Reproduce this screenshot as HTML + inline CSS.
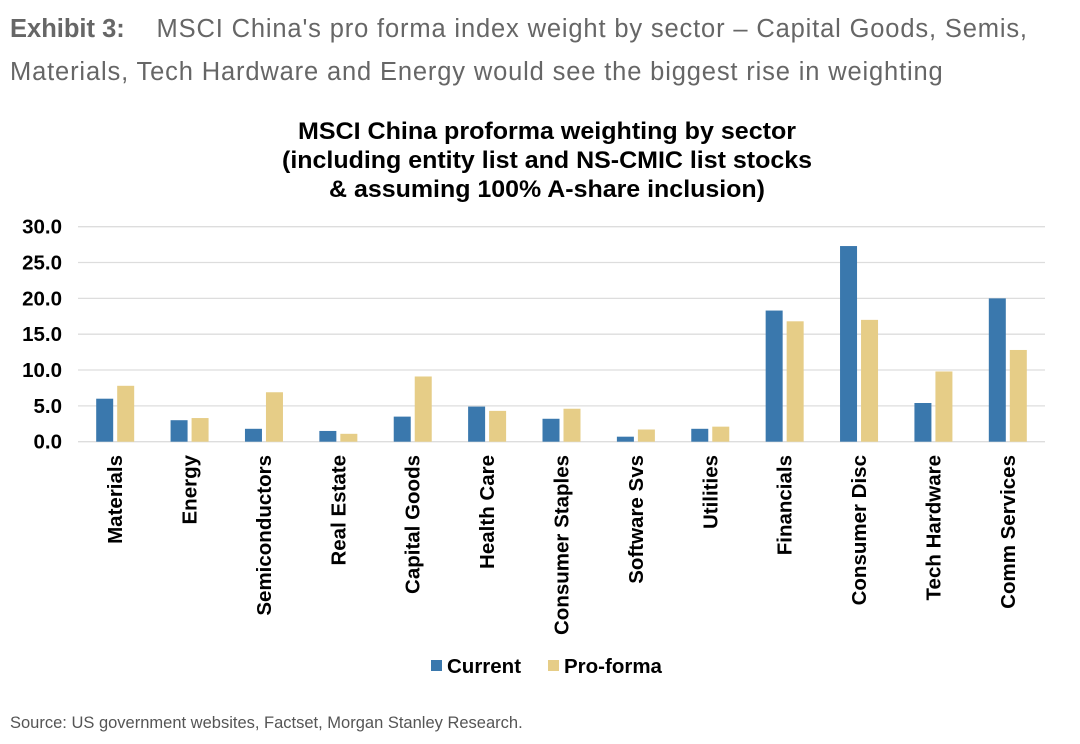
<!DOCTYPE html>
<html><head><meta charset="utf-8"><style>
body{margin:0;background:#fff;width:1080px;height:744px;overflow:hidden;font-family:"Liberation Sans",sans-serif;}
</style></head><body>
<div style="position:absolute;left:10px;top:8px;width:1075px;font-size:25.5px;line-height:43px;color:#666;letter-spacing:0.85px;">
<b style="color:#666;letter-spacing:0">Exhibit 3:</b>&nbsp;&nbsp;&nbsp;&nbsp;MSCI China's pro forma index weight by sector – Capital Goods, Semis, Materials, Tech Hardware and Energy would see the biggest rise in weighting</div>
<svg width="1080" height="744" style="position:absolute;left:0;top:0" id="chart">
<g font-weight="bold" font-size="24" text-anchor="middle" fill="#000">
<text x="547" y="139" textLength="498" lengthAdjust="spacingAndGlyphs">MSCI China proforma weighting by sector</text>
<text x="547" y="168" textLength="530" lengthAdjust="spacingAndGlyphs">(including entity list and NS-CMIC list stocks</text>
<text x="547" y="197" textLength="436" lengthAdjust="spacingAndGlyphs">&amp; assuming 100% A-share inclusion)</text>
</g>
<g id="grid"></g><g id="bars"></g><g id="labels"></g>
<g font-weight="bold" font-size="20.5">
<rect x="431" y="660" width="11" height="11" fill="#3a78ad"/>
<text x="447" y="673">Current</text>
<rect x="548" y="660" width="11" height="11" fill="#e6cd87"/>
<text x="564" y="673">Pro-forma</text>
</g>
<text x="10" y="728" font-size="16.5" fill="#555">Source: US government websites, Factset, Morgan Stanley Research.</text>
</svg>
<script>
const categories=["Materials","Energy","Semiconductors","Real Estate","Capital Goods","Health Care","Consumer Staples","Software Svs","Utilities","Financials","Consumer Disc","Tech Hardware","Comm Services"];
const current=[6.0,3.0,1.8,1.5,3.5,4.9,3.2,0.7,1.8,18.3,27.3,5.4,20.0];
const proforma=[7.8,3.3,6.9,1.1,9.1,4.3,4.6,1.7,2.1,16.8,17.0,9.8,12.8];
const ticks=[0,5,10,15,20,25,30];
const NS="http://www.w3.org/2000/svg";
const x0=78,x1=1045,yTop=226.7,yBot=441.7,ymax=30;
const y=v=>yBot-(v/ymax)*(yBot-yTop);
const bw=(x1-x0)/categories.length;
const cx=i=>x0+bw*(i+0.5);
function mk(t,a,p){const e=document.createElementNS(NS,t);for(const k in a)e.setAttribute(k,a[k]);p.appendChild(e);return e;}
const grid=document.getElementById('grid'),bars=document.getElementById('bars'),labels=document.getElementById('labels');
ticks.forEach(t=>{
 const l=mk('line',{x1:x0,x2:x1,y1:y(t),y2:y(t),stroke:'#ddd','stroke-width':1.3},grid);
 
 
 const tx=mk('text',{x:62,y:y(t)+7,'text-anchor':'end','font-size':20.5,'font-weight':'bold'},grid);
 tx.textContent=t.toFixed(1);
 
 
});
categories.forEach((c,i)=>{
 const b1=mk('rect',{x:cx(i)-19,y:y(current[i]),width:17,height:yBot-y(current[i]),fill:'#3a78ad'},bars);
 
 
 const b2=mk('rect',{x:cx(i)+2,y:y(proforma[i]),width:17,height:yBot-y(proforma[i]),fill:'#e6cd87'},bars);
 
 
 const t=mk('text',{transform:`translate(${cx(i)+7},455) rotate(-90)`,'text-anchor':'end','font-size':20.5,'font-weight':'bold'},labels);
 t.textContent=c;
 
 
});
</script>
</body></html>
